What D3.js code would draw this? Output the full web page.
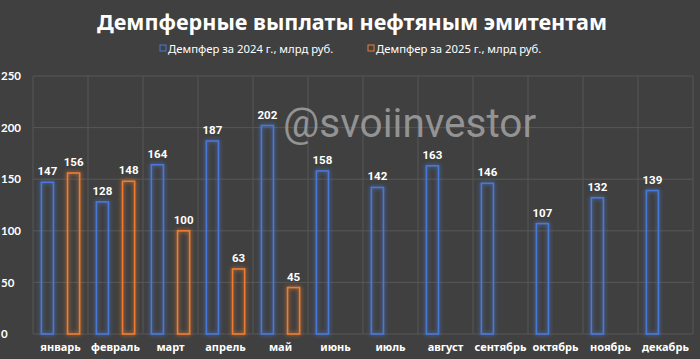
<!DOCTYPE html>
<html><head><meta charset="utf-8">
<script src="https://cdnjs.cloudflare.com/ajax/libs/d3/7.8.5/d3.min.js"></script>
<style>
html,body{margin:0;padding:0;background:#404040;}
svg{display:block;}
</style></head>
<body>
<script>
const months = ["январь","февраль","март","апрель","май","июнь","июль","август","сентябрь","октябрь","ноябрь","декабрь"];
const values2024 = [147,128,164,187,202,158,142,163,146,107,132,139];
const values2025 = [156,148,100,63,45,null,null,null,null,null,null,null];
const seriesNames = ["Демпфер за 2024 г., млрд руб.","Демпфер за 2025 г., млрд руб."];
const seriesColors = ["#4a78d6","#ee7d31"];
const yTicks = [0,50,100,150,200,250];

const W=700,H=359;
const m={l:33,r:7,t:76,b:25};
const svg=d3.select("body").append("svg").attr("width",W).attr("height",H);
svg.append("rect").attr("width",W).attr("height",H).attr("fill","#404040");

const defs=svg.append("defs");
const f=defs.append("filter").attr("id","glow").attr("x","-50%").attr("y","-20%").attr("width","200%").attr("height","140%");
f.append("feGaussianBlur").attr("in","SourceGraphic").attr("stdDeviation",2).attr("result","b");
const mg=f.append("feMerge");
mg.append("feMergeNode").attr("in","b");
mg.append("feMergeNode").attr("in","SourceGraphic");

const x=d3.scaleBand().domain(months).range([m.l,W-m.r]);
const y=d3.scaleLinear().domain([0,250]).range([334,m.t]);
const xs=d3.scaleBand().domain([0,1]).range([0,x.bandwidth()]).paddingInner(0.5).paddingOuter(0.3);

// grid
const g=svg.append("g");
g.selectAll("line.h").data(yTicks).join("line").attr("x1",m.l).attr("x2",W-m.r)
 .attr("y1",d=>y(d)).attr("y2",d=>y(d)).attr("stroke","#575757").attr("stroke-width",1);
g.selectAll("line.v").data(months.concat(["end"])).join("line")
 .attr("x1",(d,i)=>i<12?x(d):W-m.r).attr("x2",(d,i)=>i<12?x(d):W-m.r)
 .attr("y1",m.t).attr("y2",334).attr("stroke","#575757").attr("stroke-width",1);

// y axis labels
const ya=svg.append("g").attr("transform",`translate(${m.l-4},0)`)
 .call(d3.axisLeft(y).tickValues(yTicks).tickSize(0).tickPadding(0));
ya.select(".domain").remove();
ya.selectAll("text").attr("fill","#fff").attr("font-family","Lato, 'Noto Sans', sans-serif")
 .attr("font-weight","bold").attr("font-size",11.5).attr("text-anchor","start").attr("x",-28);

// x axis labels
const xa=svg.append("g").attr("transform",`translate(0,${341})`)
 .call(d3.axisBottom(x).tickSize(0).tickPadding(0));
xa.select(".domain").remove();
xa.selectAll("text").attr("fill","#fff").attr("font-family","'Noto Sans', sans-serif")
 .attr("font-weight","bold").attr("font-size",11).attr("dy","0.9em");

// watermark
svg.append("text").attr("x",283).attr("y",137).text("@svoiinvestor")
 .attr("fill","#a3a3a3").attr("fill-opacity",0.85).attr("font-family","Roboto, sans-serif")
 .attr("font-size",40.5);

// bars
const series=[values2024,values2025];
series.forEach((vals,si)=>{
  const data=months.map((mo,i)=>({mo,v:vals[i]})).filter(d=>d.v!=null);
  const bw=xs.bandwidth();
  svg.append("g").selectAll("rect").data(data).join("rect")
   .attr("x",d=>x(d.mo)+xs(si)+0.5).attr("y",d=>y(d.v))
   .attr("width",bw-1).attr("height",d=>y(0)-y(d.v))
   .attr("fill","none").attr("stroke",seriesColors[si]).attr("stroke-width",1.6)
   .attr("filter","url(#glow)");
  svg.append("g").selectAll("text").data(data).join("text")
   .attr("x",d=>x(d.mo)+xs(si)+bw/2).attr("y",d=>y(d.v)-7)
   .attr("text-anchor","middle").attr("fill","#fff")
   .attr("font-family","Roboto, sans-serif").attr("font-weight","bold").attr("font-size",11.5)
   .text(d=>d.v);
});

// title
svg.append("text").attr("x",352).attr("y",30).attr("text-anchor","middle")
 .attr("fill","#fff").attr("font-family","'Noto Sans', sans-serif").attr("font-weight","bold")
 .attr("font-size",21.6).text("Демпферные выплаты нефтяным эмитентам");

// legend
const lg=svg.append("g");
seriesNames.forEach((n,i)=>{
  const gx=[160,368][i];
  lg.append("rect").attr("x",gx).attr("y",45).attr("width",6).attr("height",6)
   .attr("fill","none").attr("stroke",seriesColors[i]).attr("stroke-width",1);
  lg.append("text").attr("x",gx+8).attr("y",52.5).text(n).attr("fill","#fff")
   .attr("font-family","'Noto Sans', sans-serif").attr("font-size",11.3);
});
</script>
</body></html>
